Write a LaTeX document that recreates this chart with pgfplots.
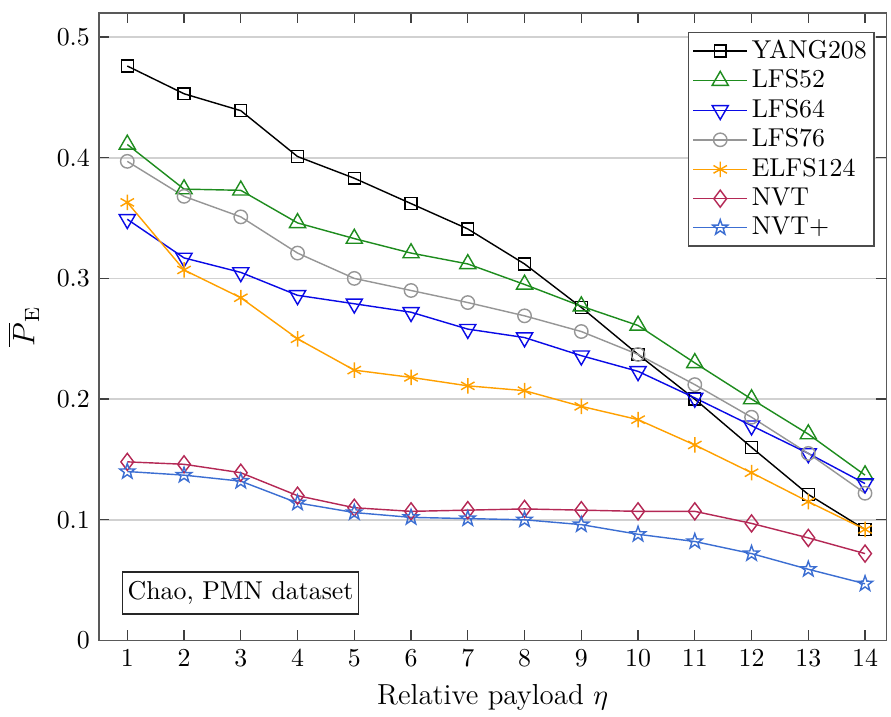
\documentclass[border=0pt]{standalone}
\usepackage{pgfplots}
\pgfplotsset{compat=1.18}
\usepackage{pgfplotstable}

\definecolor{cgreen}{RGB}{30,140,30}
\definecolor{cblue}{RGB}{10,10,230}
\definecolor{cgray}{RGB}{150,150,150}
\definecolor{corange}{RGB}{255,160,0}
\definecolor{cnvt}{RGB}{180,40,85}
\definecolor{cnvtp}{RGB}{60,110,210}

% outlined five-pointed star like matlab's pentagram
\pgfdeclareplotmark{pentagram}{%
  \pgfpathmoveto{\pgfpointpolar{90}{\pgfplotmarksize}}%
  \pgfpathlineto{\pgfpointpolar{126}{0.4\pgfplotmarksize}}%
  \pgfpathlineto{\pgfpointpolar{162}{\pgfplotmarksize}}%
  \pgfpathlineto{\pgfpointpolar{198}{0.4\pgfplotmarksize}}%
  \pgfpathlineto{\pgfpointpolar{234}{\pgfplotmarksize}}%
  \pgfpathlineto{\pgfpointpolar{270}{0.4\pgfplotmarksize}}%
  \pgfpathlineto{\pgfpointpolar{306}{\pgfplotmarksize}}%
  \pgfpathlineto{\pgfpointpolar{342}{0.4\pgfplotmarksize}}%
  \pgfpathlineto{\pgfpointpolar{18}{\pgfplotmarksize}}%
  \pgfpathlineto{\pgfpointpolar{54}{0.4\pgfplotmarksize}}%
  \pgfpathclose
  \pgfusepathqstroke}

\pgfplotstableread{
x  yang  lfs52 lfs64 lfs76 elfs  nvt   nvtp
1  0.476 0.411 0.349 0.397 0.363 0.148 0.140
2  0.453 0.374 0.317 0.368 0.307 0.146 0.137
3  0.439 0.373 0.305 0.351 0.284 0.139 0.132
4  0.401 0.346 0.286 0.321 0.250 0.120 0.114
5  0.383 0.333 0.279 0.300 0.224 0.110 0.106
6  0.362 0.321 0.272 0.290 0.218 0.107 0.102
7  0.341 0.312 0.258 0.280 0.211 0.108 0.101
8  0.312 0.295 0.251 0.269 0.207 0.109 0.100
9  0.276 0.277 0.236 0.256 0.194 0.108 0.096
10 0.237 0.261 0.223 0.237 0.183 0.107 0.088
11 0.200 0.230 0.201 0.212 0.162 0.107 0.082
12 0.160 0.200 0.178 0.185 0.139 0.097 0.072
13 0.121 0.171 0.155 0.155 0.115 0.085 0.059
14 0.092 0.137 0.130 0.122 0.092 0.072 0.047
}\data

\begin{document}
\begin{tikzpicture}
\begin{axis}[
    name=ax,
    scale only axis,
    width=305pt, height=243pt,
    xmin=0.5, xmax=14.38,
    ymin=0, ymax=0.52,
    xtick={1,...,14},
    ytick={0,0.1,0.2,0.3,0.4,0.5},
    yticklabel style={/pgf/number format/fixed},
    tick align=inside,
    major tick length=4pt,
    tick style={black!75, line width=0.5pt},
    axis line style={black!65, line width=0.6pt},
    ymajorgrids=true,
    grid style={black!18, line width=0.6pt},
    xlabel={Relative payload $\eta$},
    xlabel style={font=\fontsize{11.2}{13}\selectfont},
    ylabel={\large$\overline{P}_{\mathrm{E}}$},
    every axis plot/.append style={line width=0.55pt, mark options={solid}},
    mark size=2.5pt,
    legend style={at={(1,1)}, anchor=north east, xshift=-4.5pt, yshift=-7.2pt,
        draw=black!70, line width=0.6pt, fill=white, font=\normalsize,
        row sep=0.1pt, inner xsep=1.5pt, inner ysep=1.5pt,
        nodes={inner sep=1.4pt}},
    legend cell align=left,
    legend image code/.code={%
        \draw[mark repeat=2,mark phase=2] plot coordinates {(0cm,0cm) (0.37cm,0cm) (0.74cm,0cm)};},
]
\addplot[color=black, mark=square, mark size=2.3pt] table[x=x, y=yang] {\data};
\addplot[color=cgreen, mark=triangle, mark size=3.6pt] table[x=x, y=lfs52] {\data};
\addplot[color=cblue, mark=triangle, mark size=3.6pt, mark options={rotate=180}] table[x=x, y=lfs64] {\data};
\addplot[color=cgray, mark=o, mark size=2.6pt] table[x=x, y=lfs76] {\data};
\addplot[color=corange, mark=asterisk, mark size=3pt] table[x=x, y=elfs] {\data};
\addplot[color=cnvt, mark=diamond, mark size=3.3pt] table[x=x, y=nvt] {\data};
\addplot[color=cnvtp, mark=pentagram, mark size=3.1pt] table[x=x, y=nvtp] {\data};
\legend{YANG208, LFS52, LFS64, LFS76, ELFS124, NVT, NVT+}
\node[draw=black!85, line width=0.6pt, fill=white, anchor=south west,
      inner xsep=2pt, inner ysep=3.6pt]
    at (rel axis cs:0.029,0.041) {Chao, PMN dataset};
\end{axis}
\pgfresetboundingbox
\path[use as bounding box] ([xshift=-38.3pt,yshift=-29.5pt]ax.south west)
    rectangle ([xshift=1.7pt,yshift=5pt]ax.north east);
\end{tikzpicture}
\end{document}
